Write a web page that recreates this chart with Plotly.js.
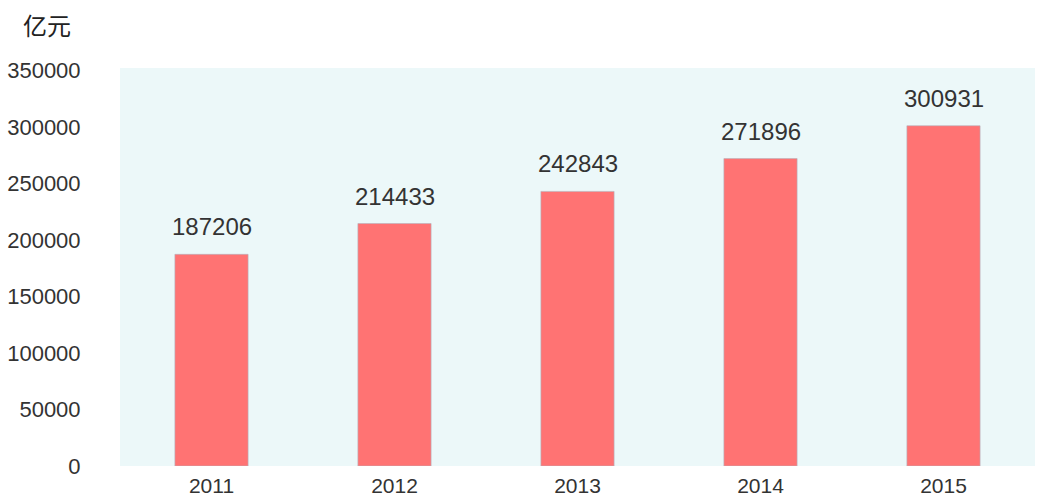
<!DOCTYPE html>
<html>
<head>
<meta charset="utf-8">
<script src="https://cdn.plot.ly/plotly-3.0.1.min.js"></script>
<style>html,body{margin:0;padding:0;background:#fff;}#chart{width:1042px;height:497px;}</style>
</head>
<body>
<div id="chart"></div>
<script>
const years = ['2011', '2012', '2013', '2014', '2015'];
const values = [187206, 214433, 242843, 271896, 300931];
const yTicks = [0, 50000, 100000, 150000, 200000, 250000, 300000, 350000];
const unitLabel = '亿元';

const font = "'Liberation Sans', Arial, sans-serif";

const trace = {
  type: 'bar',
  x: years,
  y: values,
  width: 0.4,
  marker: { color: '#ff7373', line: { color: 'rgba(180,180,190,0.6)', width: 1 } },
  hoverinfo: 'none'
};

const annotations = years.map((yr, i) => ({
  x: i, y: values[i], xref: 'x', yref: 'y',
  text: String(values[i]), showarrow: false,
  yanchor: 'bottom', yshift: 12,
  font: { family: font, size: 24, color: '#333' }
}));
annotations.push({
  xref: 'paper', yref: 'paper',
  x: (21 - 120) / 915, y: 1 + (68 - 25) / 398,
  xanchor: 'left', yanchor: 'middle',
  text: unitLabel, showarrow: false,
  font: { family: "'Noto Sans CJK SC', sans-serif", size: 24, color: '#222' }
});

const layout = {
  width: 1042, height: 497,
  margin: { l: 120, r: 7, t: 68, b: 31 },
  paper_bgcolor: '#ffffff',
  plot_bgcolor: '#ecf8f9',
  showlegend: false,
  xaxis: {
    type: 'category',
    range: [-0.5, years.length - 0.5],
    showgrid: false, zeroline: false, showline: false,
    ticks: 'outside', ticklen: 1, tickcolor: 'rgba(0,0,0,0)',
    tickfont: { family: font, size: 21, color: '#333' }
  },
  yaxis: {
    range: [0, 352000],
    tickvals: yTicks,
    ticktext: yTicks.map(String),
    showgrid: false, zeroline: false, showline: false,
    ticks: 'outside', ticklen: 34, tickcolor: 'rgba(0,0,0,0)',
    tickfont: { family: font, size: 22, color: '#333' }
  },
  annotations: annotations
};

Plotly.newPlot('chart', [trace], layout, { staticPlot: true, displayModeBar: false });
</script>
</body>
</html>
